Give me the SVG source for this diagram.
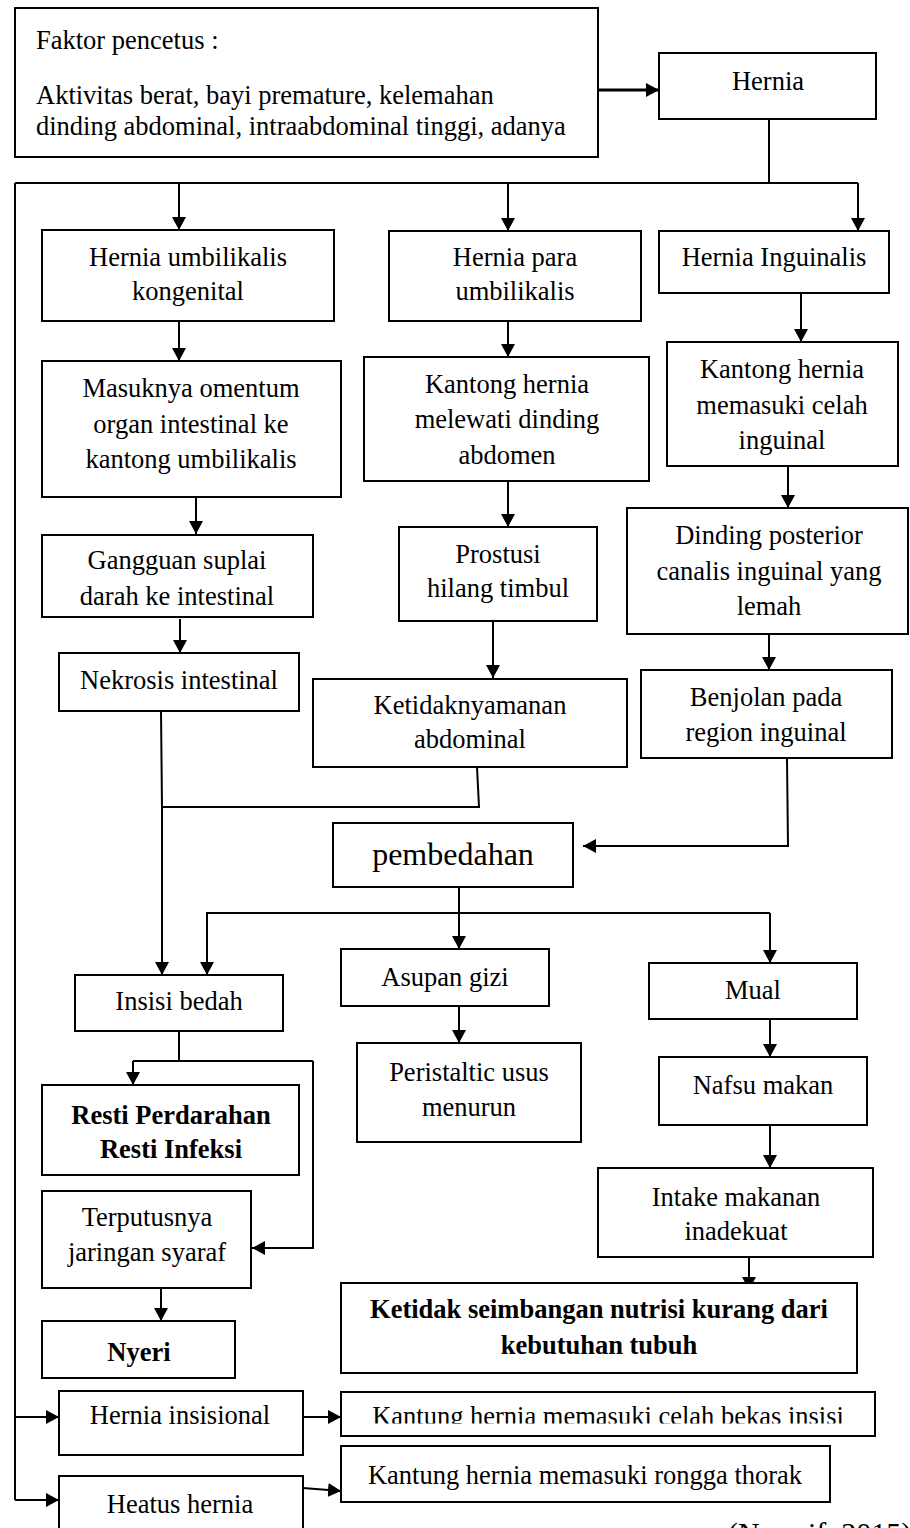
<svg xmlns="http://www.w3.org/2000/svg" width="910" height="1528" viewBox="0 0 910 1528">
<style>
  rect.box { fill: #fff; stroke: #000; stroke-width: 2; }
  text { font-family: "Liberation Serif", "Times New Roman", serif; font-size: 26.5px; fill: #000; }
  text.c { text-anchor: middle; }
  text.b { font-weight: bold; }
  #connectors path, #connectors line { fill: none; stroke: #000; stroke-width: 2; }
  #connectors .a { marker-end: url(#arr); }
</style>
<defs>
  <marker id="arr" markerUnits="userSpaceOnUse" markerWidth="14" markerHeight="14" refX="13" refY="7" orient="auto">
    <path d="M0,0 L13,7 L0,14 z" fill="#000"/>
  </marker>
  <clipPath id="clipTop"><rect x="15" y="8" width="583" height="149"/></clipPath>
  <clipPath id="clipCelah"><rect x="341" y="1392" width="534" height="31.5"/></clipPath>
</defs>
<rect width="910" height="1528" fill="#fff"/>

<g id="connectors">
  <line x1="598" y1="90" x2="659" y2="90" class="a" style="stroke-width:3"/>
  <path d="M769,119 V183"/>
  <path d="M15,183 H858"/>
  <path d="M179,183 V230" class="a"/>
  <path d="M508,183 V231" class="a"/>
  <path d="M858,183 V231" class="a"/>
  <path d="M179,321 V361" class="a"/>
  <path d="M508,315 V357" class="a"/>
  <path d="M801,293 V342" class="a"/>
  <path d="M196,497 V534" class="a"/>
  <path d="M508,481 V527" class="a"/>
  <path d="M788,466 V508" class="a"/>
  <path d="M180,619 V653" class="a"/>
  <path d="M493,620 V678" class="a"/>
  <path d="M769,634 V670" class="a"/>
  <path d="M161,711 L162,807 H479 L477,767"/>
  <path d="M162,807 V975" class="a"/>
  <path d="M787,758 L788,846 H583" class="a"/>
  <path d="M459,887 V949" class="a"/>
  <path d="M207,975 V913 H770"/>
  <path d="M207,913 V975" class="a"/>
  <path d="M770,913 V963" class="a"/>
  <path d="M459,1006 V1043" class="a"/>
  <path d="M770,1017 V1057" class="a"/>
  <path d="M179,1031 V1061"/>
  <path d="M133,1061 H313"/>
  <path d="M133,1061 V1085" class="a"/>
  <path d="M313,1061 V1248 H252" class="a"/>
  <path d="M161,1288 V1321" class="a"/>
  <path d="M770,1125 V1168" class="a"/>
  <path d="M749,1257 V1290" class="a"/>
  <path d="M15,183 V1500"/>
  <path d="M15,1417 H59" class="a"/>
  <path d="M15,1500 H59" class="a"/>
  <path d="M303,1417 H341" class="a"/>
  <path d="M303,1488 L341,1491" class="a"/>
</g>

<g id="faktor">
  <rect class="box" x="15" y="8" width="583" height="149"/>
  <g clip-path="url(#clipTop)">
    <text x="36" y="49">Faktor pencetus :</text>
    <text x="36" y="104">Aktivitas berat, bayi premature, kelemahan</text>
    <text x="36" y="135">dinding abdominal, intraabdominal tinggi, adanya</text>
  </g>
</g>
<g id="hernia">
  <rect class="box" x="659" y="53" width="217" height="66"/>
  <text class="c" x="768" y="90">Hernia</text>
</g>
<g id="umbilikalis">
  <rect class="box" x="42" y="230" width="292" height="91"/>
  <text class="c" x="188" y="266">Hernia umbilikalis</text>
  <text class="c" x="188" y="300">kongenital</text>
</g>
<g id="para">
  <rect class="box" x="389" y="231" width="252" height="90"/>
  <text class="c" x="515" y="266">Hernia para</text>
  <text class="c" x="515" y="300">umbilikalis</text>
</g>
<g id="inguinalis">
  <rect class="box" x="659" y="231" width="230" height="62"/>
  <text class="c" x="774" y="266">Hernia Inguinalis</text>
</g>
<g id="masuknya">
  <rect class="box" x="42" y="361" width="299" height="136"/>
  <text class="c" x="191" y="397">Masuknya omentum</text>
  <text class="c" x="191" y="433">organ intestinal ke</text>
  <text class="c" x="191" y="468">kantong umbilikalis</text>
</g>
<g id="melewati">
  <rect class="box" x="364" y="357" width="285" height="124"/>
  <text class="c" x="507" y="393">Kantong hernia</text>
  <text class="c" x="507" y="428">melewati dinding</text>
  <text class="c" x="507" y="464">abdomen</text>
</g>
<g id="celah-inguinal">
  <rect class="box" x="667" y="342" width="231" height="124"/>
  <text class="c" x="782" y="378">Kantong hernia</text>
  <text class="c" x="782" y="414">memasuki celah</text>
  <text class="c" x="782" y="449">inguinal</text>
</g>
<g id="gangguan">
  <rect class="box" x="42" y="535" width="271" height="82"/>
  <text class="c" x="177" y="569">Gangguan suplai</text>
  <text class="c" x="177" y="605">darah ke intestinal</text>
</g>
<g id="nekrosis">
  <rect class="box" x="59" y="653" width="240" height="58"/>
  <text class="c" x="179" y="689">Nekrosis intestinal</text>
</g>
<g id="prostusi">
  <rect class="box" x="399" y="527" width="198" height="94"/>
  <text class="c" x="498" y="563">Prostusi</text>
  <text class="c" x="498" y="597">hilang timbul</text>
</g>
<g id="ketidaknyamanan">
  <rect class="box" x="313" y="679" width="314" height="88"/>
  <text class="c" x="470" y="714">Ketidaknyamanan</text>
  <text class="c" x="470" y="748">abdominal</text>
</g>
<g id="dinding">
  <rect class="box" x="627" y="508" width="281" height="126"/>
  <text class="c" x="769" y="544">Dinding posterior</text>
  <text class="c" x="769" y="580">canalis inguinal yang</text>
  <text class="c" x="769" y="615">lemah</text>
</g>
<g id="benjolan">
  <rect class="box" x="641" y="670" width="251" height="88"/>
  <text class="c" x="766" y="706">Benjolan pada</text>
  <text class="c" x="766" y="741">region inguinal</text>
</g>
<g id="pembedahan">
  <rect class="box" x="333" y="823" width="240" height="64"/>
  <text class="c" x="453" y="865" style="font-size:32px">pembedahan</text>
</g>
<g id="insisi">
  <rect class="box" x="75" y="975" width="208" height="56"/>
  <text class="c" x="179" y="1010">Insisi bedah</text>
</g>
<g id="asupan">
  <rect class="box" x="341" y="949" width="208" height="57"/>
  <text class="c" x="445" y="986">Asupan gizi</text>
</g>
<g id="mual">
  <rect class="box" x="649" y="963" width="208" height="56"/>
  <text class="c" x="753" y="999">Mual</text>
</g>
<g id="peristaltic">
  <rect class="box" x="357" y="1043" width="224" height="99"/>
  <text class="c" x="469" y="1081">Peristaltic usus</text>
  <text class="c" x="469" y="1116">menurun</text>
</g>
<g id="nafsu">
  <rect class="box" x="659" y="1057" width="208" height="68"/>
  <text class="c" x="763" y="1094">Nafsu makan</text>
</g>
<g id="resti">
  <rect class="box" x="42" y="1085" width="257" height="90"/>
  <text class="c b" x="171" y="1124">Resti Perdarahan</text>
  <text class="c b" x="171" y="1158">Resti Infeksi</text>
</g>
<g id="terputusnya">
  <rect class="box" x="42" y="1191" width="209" height="97"/>
  <text class="c" x="147" y="1226">Terputusnya</text>
  <text class="c" x="147" y="1261">jaringan syaraf</text>
</g>
<g id="intake">
  <rect class="box" x="598" y="1168" width="275" height="89"/>
  <text class="c" x="736" y="1206">Intake makanan</text>
  <text class="c" x="736" y="1240">inadekuat</text>
</g>
<g id="nutrisi">
  <rect class="box" x="341" y="1283" width="516" height="90"/>
  <text class="c b" x="599" y="1318">Ketidak seimbangan nutrisi kurang dari</text>
  <text class="c b" x="599" y="1354">kebutuhan tubuh</text>
</g>
<g id="nyeri">
  <rect class="box" x="42" y="1321" width="193" height="57"/>
  <text class="c b" x="139" y="1361">Nyeri</text>
</g>
<g id="insisional">
  <rect class="box" x="59" y="1391" width="244" height="64"/>
  <text class="c" x="180" y="1424">Hernia insisional</text>
</g>
<g id="celah-insisi">
  <rect class="box" x="341" y="1392" width="534" height="44"/>
  <g clip-path="url(#clipCelah)">
    <text class="c" x="608" y="1425">Kantung hernia memasuki celah bekas insisi</text>
  </g>
</g>
<g id="thorak">
  <rect class="box" x="341" y="1446" width="489" height="56"/>
  <text class="c" x="585" y="1484">Kantung hernia memasuki rongga thorak</text>
</g>
<g id="heatus">
  <rect class="box" x="59" y="1476" width="244" height="62"/>
  <text class="c" x="180" y="1513">Heatus hernia</text>
</g>
<text x="728" y="1543" style="font-size:30px">(Nurarif, 2015)</text>
</svg>
